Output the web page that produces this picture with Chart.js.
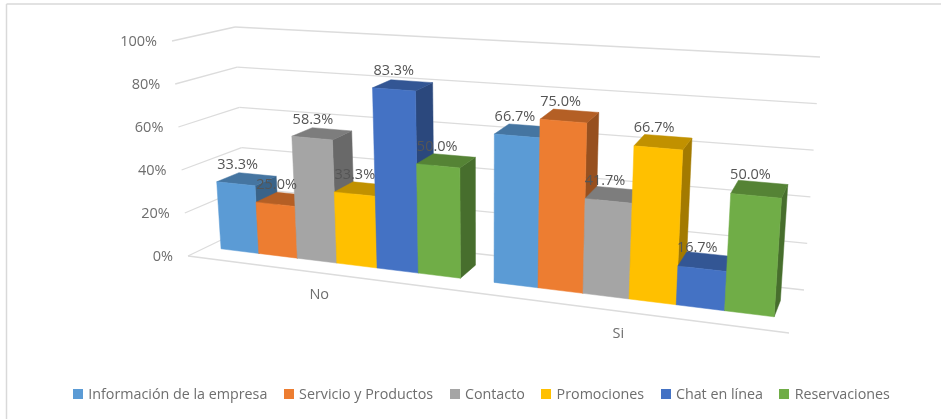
<!DOCTYPE html>
<html>
<head>
<meta charset="utf-8">
<style>html,body{margin:0;padding:0;background:#fff}canvas{display:block}</style>
<script src="https://cdn.jsdelivr.net/npm/chart.js@4/dist/chart.umd.min.js"></script>
</head>
<body>
<canvas id="c" width="941" height="419"></canvas>
<script>
const categories = ["No", "Si"];
const informacion = [33.3, 66.7];
const servicio = [25.0, 75.0];
const contacto = [58.3, 41.7];
const promociones = [33.3, 66.7];
const chatEnLinea = [83.3, 16.7];
const reservaciones = [50.0, 50.0];
const seriesNames = ["Información de la empresa", "Servicio y Productos", "Contacto", "Promociones", "Chat en línea", "Reservaciones"];
const seriesValues = [informacion, servicio, contacto, promociones, chatEnLinea, reservaciones];
const seriesColors = ["#5B9BD5", "#ED7D31", "#A5A5A5", "#FFC000", "#4472C4", "#70AD47"];
const FONT = '14.5px "Open Sans"';

// box corners of the 3D plot on screen: [v=0, v=1] for each floor corner
const FL = [[188,256],[172,41]], FR = [[789,333],[805,87]];
const BL = [[246,228],[235,27]], BR = [[804,290],[820,57]];
const K = 1.17, D0 = 0.32, D1 = 0.70;
const mix = (a,b,t) => [a[0]+(b[0]-a[0])*t, a[1]+(b[1]-a[1])*t];
const warp = u => u / (u + K * (1 - u));
function project(u, d, v) {
  const s = warp(u);
  const at = c => mix(c[0], c[1], v);
  return mix(mix(at(FL), at(FR), s), mix(at(BL), at(BR), s), d);
}
function shade(hex, f) {
  const n = parseInt(hex.slice(1), 16);
  return `rgb(${(n>>16&255)*f|0},${(n>>8&255)*f|0},${(n&255)*f|0})`;
}
function poly(ctx, pts, fill) {
  ctx.beginPath();
  pts.forEach((p,i) => i ? ctx.lineTo(p[0],p[1]) : ctx.moveTo(p[0],p[1]));
  ctx.closePath();
  ctx.fillStyle = fill;
  ctx.fill();
  ctx.strokeStyle = fill;
  ctx.lineWidth = 0.5;
  ctx.stroke();
}
function line(ctx, a, b) {
  ctx.beginPath(); ctx.moveTo(a[0],a[1]); ctx.lineTo(b[0],b[1]); ctx.stroke();
}
function swatch(color) {
  const c = document.createElement('canvas');
  c.width = 10; c.height = 10;
  const g = c.getContext('2d');
  g.fillStyle = color;
  g.fillRect(0,0,10,10);
  return c;
}

const frame3d = {
  id: 'frame3d',
  beforeDatasetsDraw(chart) {
    const ctx = chart.ctx, y = chart.scales.y, x = chart.scales.x;
    const area = chart.chartArea;
    const V = p => (y.getPixelForValue(0) - p) / (y.getPixelForValue(0) - y.getPixelForValue(100));
    const U = p => (p - area.left) / (area.right - area.left);
    ctx.save();
    // outer frame
    ctx.strokeStyle = '#d9d9d9'; ctx.lineWidth = 1.5;
    line(ctx, [6.5,419], [6.5,4]); line(ctx, [6.5,4], [941,4]);
    // walls
    ctx.strokeStyle = '#dcdcdc'; ctx.lineWidth = 1.3;
    y.ticks.forEach((t) => {
      const v = V(y.getPixelForValue(t.value));
      line(ctx, project(0,0,v), project(0,1,v));
      line(ctx, project(0,1,v), project(1,1,v));
    });
    line(ctx, project(0,0,0), project(1,0,0));
    // tick labels
    ctx.font = FONT; ctx.fillStyle = '#6e6e6e';
    ctx.textAlign = 'right'; ctx.textBaseline = 'middle';
    y.ticks.forEach((t) => {
      const p = project(0,0,V(y.getPixelForValue(t.value)));
      ctx.fillText(t.label, p[0]-15, p[1]+1);
    });
    // category labels
    ctx.textAlign = 'center';
    categories.forEach((c,i) => {
      const p = project(U(x.getPixelForValue(i)),0,0);
      ctx.fillText(c, p[0]-2, p[1]+22);
    });
    // bars, left to right
    const labels = [];
    categories.forEach((c,i) => {
      chart.data.datasets.forEach((ds,k) => {
        const el = chart.getDatasetMeta(k).data[i];
        const {x:bx, y:by, width:w} = el.getProps(['x','y','width'], true);
        const u0 = U(bx-w/2), u1 = U(bx+w/2);
        const v = V(by) * Math.min(0.985, 0.945 + 0.14 * warp((u0+u1)/2));
        const col = ds.backgroundColor;
        poly(ctx, [project(u1,D0,0),project(u1,D1,0),project(u1,D1,v),project(u1,D0,v)], shade(col,0.64));
        poly(ctx, [project(u0,D0,v),project(u1,D0,v),project(u1,D1,v),project(u0,D1,v)], shade(col,0.76));
        poly(ctx, [project(u0,D0,0),project(u1,D0,0),project(u1,D0,v),project(u0,D0,v)], col);
        const cp = project((u0+u1)/2,(D0+D1)/2,v);
        labels.push([ds.data[i].toFixed(1)+'%', cp[0]-9, cp[1]-14]);
      });
    });
    ctx.fillStyle = '#555555';
    labels.forEach(l => ctx.fillText(l[0], l[1], l[2]));
    ctx.restore();
    return false;
  }
};

new Chart(document.getElementById('c'), {
  type: 'bar',
  data: {
    labels: categories,
    datasets: seriesNames.map((n,i) => ({label:n, data:seriesValues[i], backgroundColor:seriesColors[i], categoryPercentage:0.885, barPercentage:1}))
  },
  plugins: [frame3d],
  options: {
    responsive: false,
    animation: false,
    layout: {padding:{left:24,right:0,top:10,bottom:7.4}},
    scales: {
      x: {grid:{display:false}, border:{display:false}, ticks:{display:false}},
      y: {min:0, max:100, grid:{display:false}, border:{display:false},
          ticks:{display:false, stepSize:20, callback:v => v+'%'}}
    },
    plugins: {
      tooltip:{enabled:false},
      title:{display:false},
      legend:{position:'bottom', labels:{font:{family:'"Open Sans"', size:14.3}, color:'#6e6e6e', usePointStyle:true, pointStyleWidth:6, boxHeight:10, padding:18.6,
        generateLabels: chart => chart.data.datasets.map((ds,i) => ({text:ds.label, fillStyle:ds.backgroundColor, strokeStyle:ds.backgroundColor, lineWidth:0, pointStyle:swatch(ds.backgroundColor), datasetIndex:i, fontColor:'#6e6e6e'}))
      }}
    }
  }
});
</script>
</body>
</html>
